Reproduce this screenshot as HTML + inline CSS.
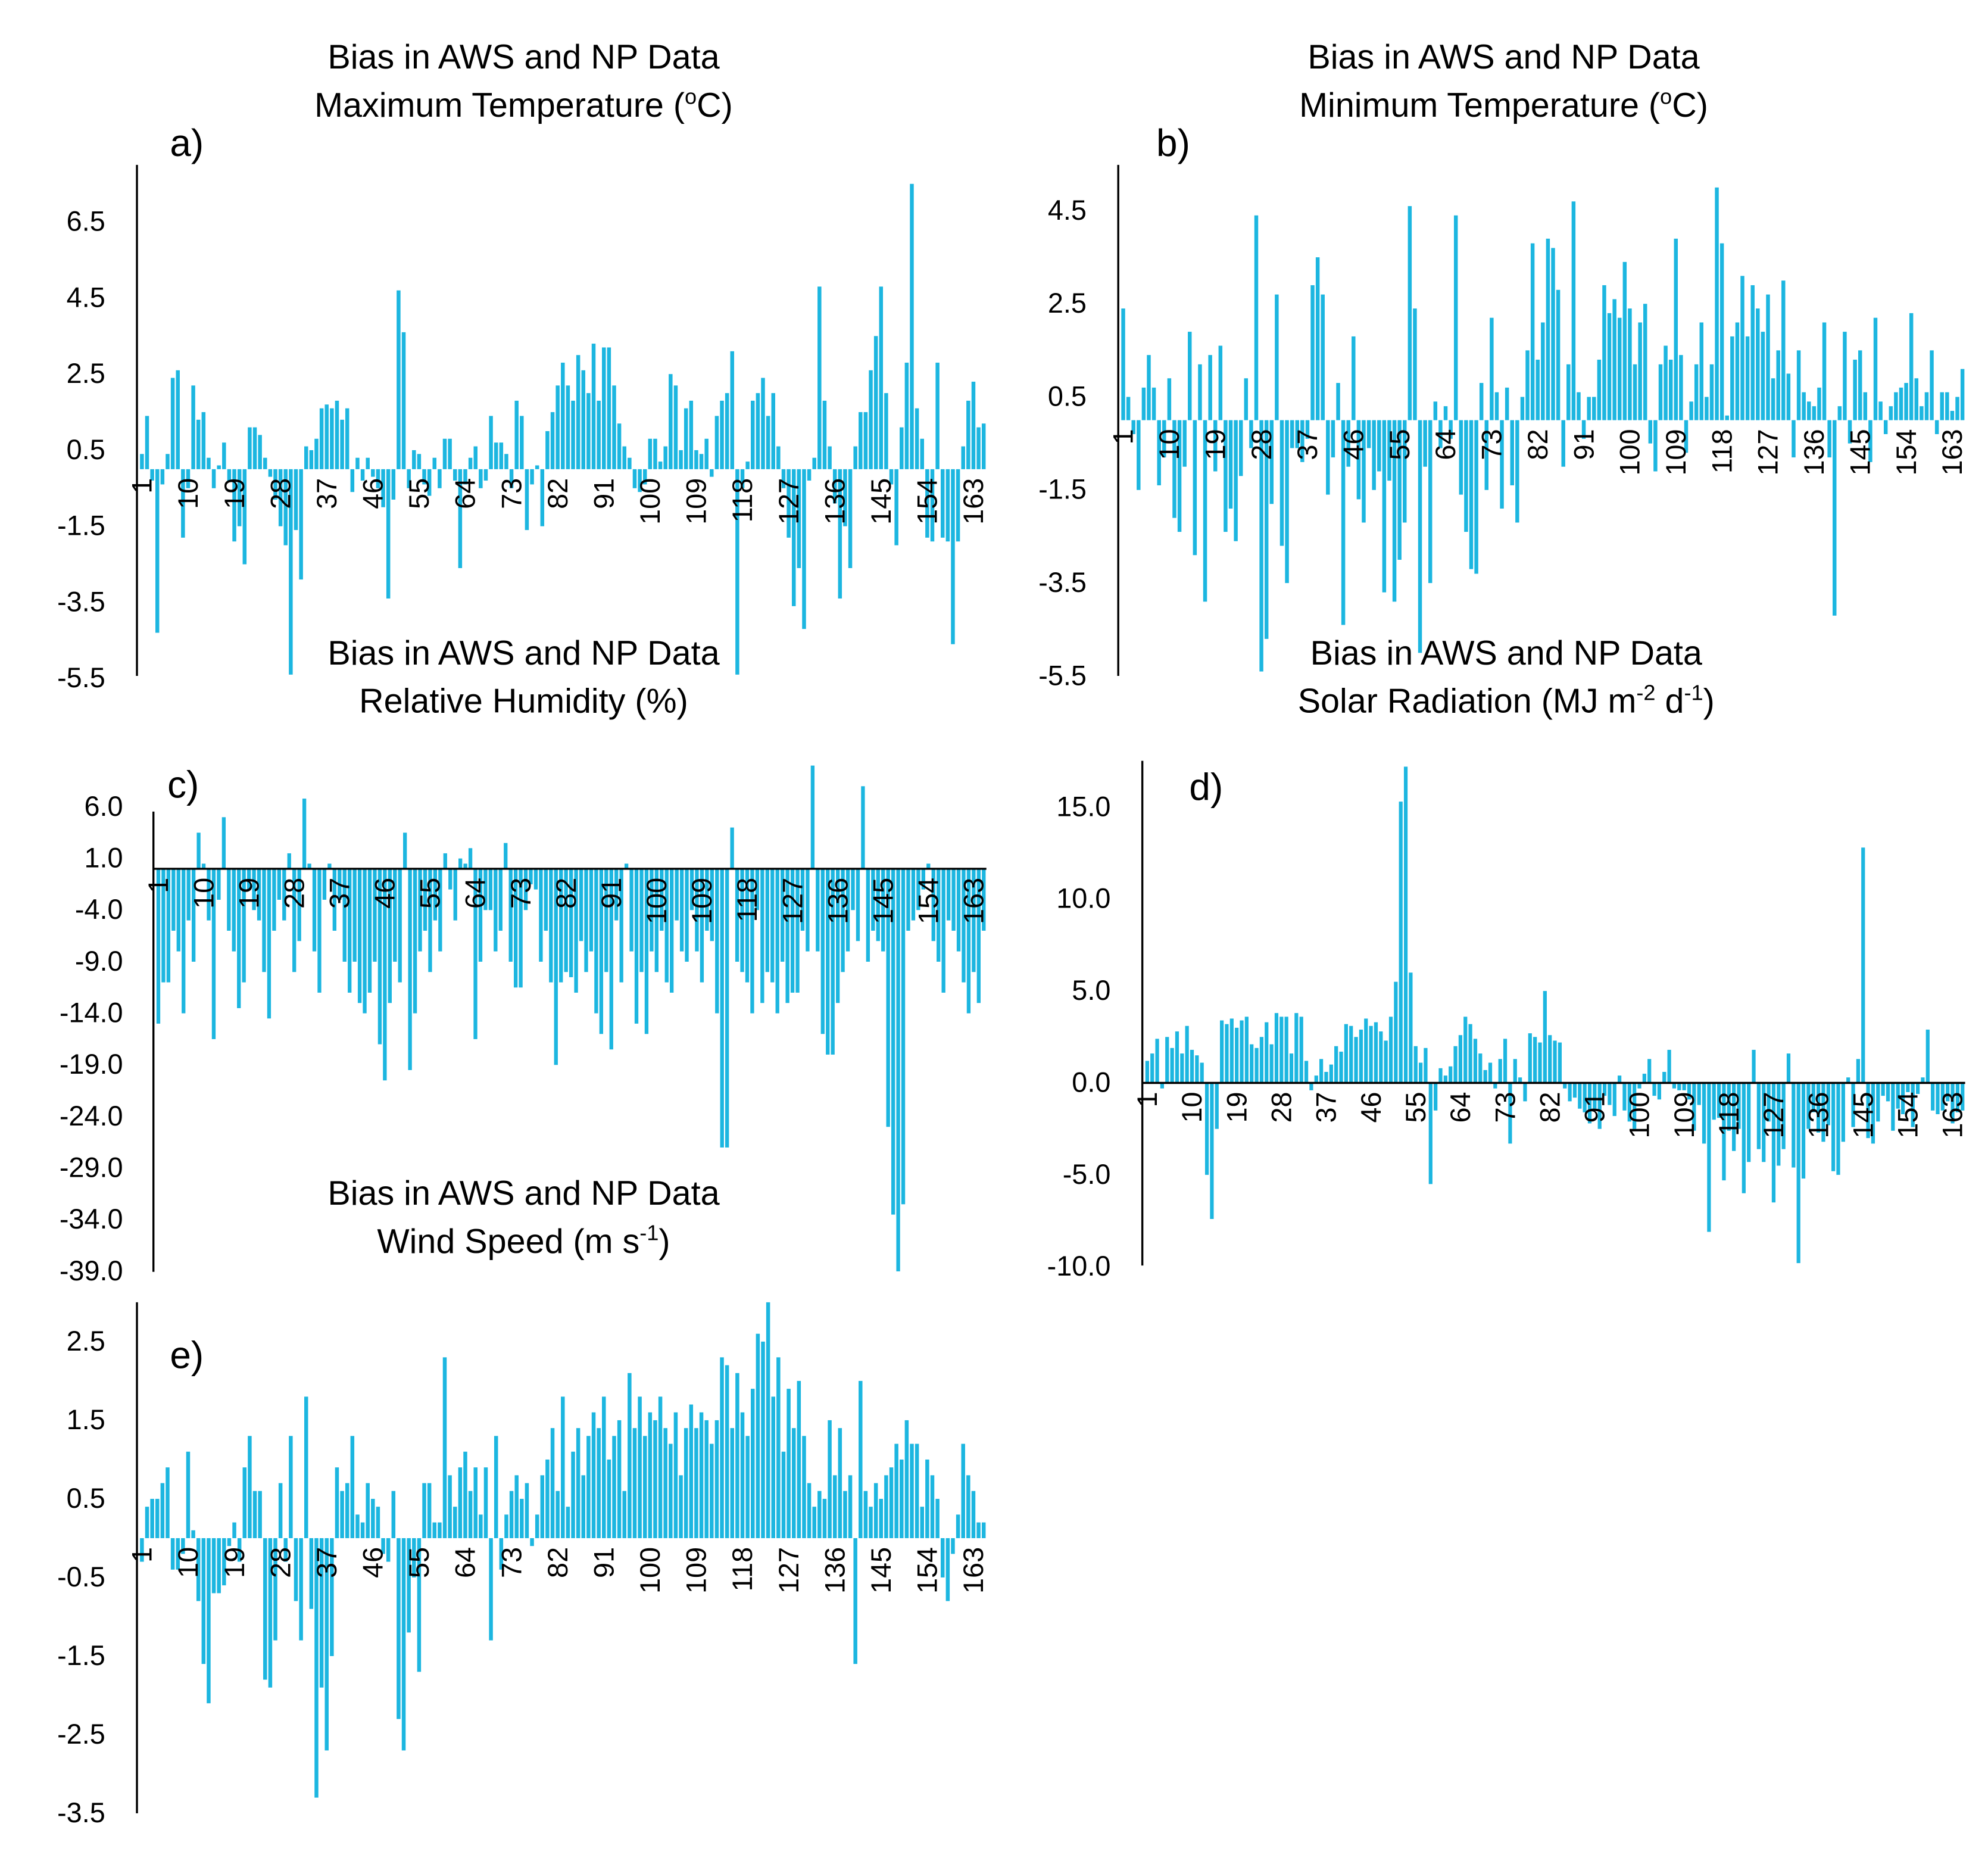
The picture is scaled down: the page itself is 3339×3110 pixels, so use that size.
<!DOCTYPE html>
<html><head><meta charset="utf-8"><style>
html,body{margin:0;padding:0;background:#fff;}
svg{display:block;font-family:"Liberation Sans",sans-serif;}
</style></head><body>
<svg id="chart" width="3339" height="3110" viewBox="0 0 1568 1460.5" xmlns="http://www.w3.org/2000/svg">
<rect width="1568" height="1461" fill="#fff"/>
<g font-size="27" fill="#000" text-anchor="middle">
<text x="413" y="54">Bias in AWS and NP Data</text>
<text x="413" y="92">Maximum Temperature (<tspan font-size="17" dy="-10">o</tspan><tspan dy="10">C)</tspan></text>
<text x="1186" y="54">Bias in AWS and NP Data</text>
<text x="1186" y="92">Minimum Temperature (<tspan font-size="17" dy="-10">o</tspan><tspan dy="10">C)</tspan></text>
<text x="413" y="524">Bias in AWS and NP Data</text>
<text x="413" y="562">Relative Humidity (%)</text>
<text x="1188" y="524">Bias in AWS and NP Data</text>
<text x="1188" y="562">Solar Radiation (MJ m<tspan font-size="17" dy="-10">-2</tspan><tspan dy="10"> d</tspan><tspan font-size="17" dy="-10">-1</tspan><tspan dy="10">)</tspan></text>
<text x="413" y="950">Bias in AWS and NP Data</text>
<text x="413" y="988">Wind Speed (m s<tspan font-size="17" dy="-10">-1</tspan><tspan dy="10">)</tspan></text>
</g>
<g font-size="30" fill="#000">
<text x="134" y="123">a)</text>
<text x="912" y="123">b)</text>
<text x="132" y="629">c)</text>
<text x="938" y="631">d)</text>
<text x="134" y="1079">e)</text>
</g>
</svg>
<script>
const catLabels=[1,10,19,28,37,46,55,64,73,82,91,100,109,118,127,136,145,154,163];
const dataA=[0.4,1.4,-0.3,-4.3,-0.4,0.4,2.4,2.6,-1.8,-0.5,
2.2,1.3,1.5,0.3,-0.5,0.1,0.7,-0.3,-1.9,-1.5,
-2.5,1.1,1.1,0.9,0.3,-0.2,-0.8,-1.5,-2.0,-5.4,
-1.6,-2.9,0.6,0.5,0.8,1.6,1.7,1.6,1.8,1.3,
1.6,-0.6,0.3,-0.3,0.3,-0.2,-0.5,-1.0,-3.4,-0.8,
4.7,3.6,-0.5,0.5,0.4,-0.4,-0.7,0.3,-0.5,0.8,
0.8,-0.3,-2.6,-0.4,0.3,0.6,-0.5,-0.3,1.4,0.7,
0.7,0.4,-0.5,1.8,1.4,-1.6,-0.4,0.1,-1.5,1.0,
1.5,2.2,2.8,2.2,1.8,3.0,2.6,2.0,3.3,1.8,
3.2,3.2,2.2,1.2,0.6,0.3,-0.5,-0.6,-0.4,0.8,
0.8,0.2,0.6,2.5,2.2,0.5,1.6,1.8,0.5,0.4,
0.8,-0.2,1.4,1.8,2.0,3.1,-5.4,-0.5,0.2,1.8,
2.0,2.4,1.4,2.0,0.6,-0.5,-1.8,-3.6,-2.6,-4.2,
-0.3,0.3,4.8,1.8,0.6,-0.9,-3.4,-1.5,-2.6,0.6,
1.5,1.5,2.6,3.5,4.8,2.0,-0.4,-2.0,1.1,2.8,
7.5,1.6,0.8,-1.8,-1.9,2.8,-1.8,-1.9,-4.6,-1.9,
0.6,1.8,2.3,1.1,1.2];
const dataB=[2.4,0.5,-0.3,-1.5,0.7,1.4,0.7,-1.4,-0.8,0.9,
-2.1,-2.4,-1.0,1.9,-2.9,1.2,-3.9,1.4,-1.1,1.6,
-2.4,-1.9,-2.6,-1.2,0.9,-0.6,4.4,-5.4,-4.7,-1.8,
2.7,-2.7,-3.5,-0.6,-0.6,-0.9,-0.4,2.9,3.5,2.7,
-1.6,-0.8,0.8,-4.4,-1.0,1.8,-1.7,-2.2,-0.6,-1.5,
-1.1,-3.7,-1.3,-3.9,-3.0,-2.2,4.6,2.4,-5.0,-1.0,
-3.5,0.4,-0.6,0.3,-0.4,4.4,-1.6,-2.4,-3.2,-3.3,
0.8,-1.5,2.2,0.6,-1.9,0.7,-1.4,-2.2,0.5,1.5,
3.8,1.3,2.1,3.9,3.7,2.8,-1.0,1.2,4.7,0.6,
-0.4,0.5,0.5,1.3,2.9,2.3,2.6,2.2,3.4,2.4,
1.2,2.1,2.5,-0.5,-1.1,1.2,1.6,1.3,3.9,1.4,
-0.7,0.4,1.2,2.1,0.5,1.2,5.0,3.8,0.1,1.8,
2.1,3.1,1.8,2.9,2.4,1.9,2.7,0.9,1.5,3.0,
1.0,-0.8,1.5,0.6,0.4,0.3,0.7,2.1,-0.8,-4.2,
0.3,1.9,-0.5,1.3,1.5,0.6,-0.9,2.2,0.4,-0.3,
0.3,0.6,0.7,0.8,2.3,0.9,0.3,0.6,1.5,-0.3,
0.6,0.6,0.2,0.5,1.1];
const dataC=[-15,-11,-11,-6,-8,-14,-5,-9,3.5,0.5,
-5,-16.5,-3,5,-6,-8,-13.5,-11,-2,-4,
-5,-10,-14.5,-6,-3,-5,1.5,-10,-7,6.8,
0.5,-8,-12,-3,0.5,-6,-3,-9,-12,-9,
-13,-14,-12,-9,-17,-20.5,-13,-9,-11,3.5,
-19.5,-14,-8,-6,-10,-5,-8,1.5,-2,-5,
1,0.5,2,-16.5,-9,-4,-4,-8,-6,2.5,
-9,-11.5,-11.5,-4,-1.5,-2,-9,-6,-11,-19,
-11,-10,-10.5,-12,-7,-10,-8,-14,-16,-10,
-17.5,-5,-11,0.5,-8,-15,-10,-16,-8,-10,
-6,-11,-12,-5,-8,-9,-4,-8,-11,-6,
-7,-14,-27,-27,4,-9,-10,-11,-14,-4,
-13,-10,-11,-14,-9,-13,-12,-12,-6,-8,
10,-8,-16,-18,-18,-13,-10,-8,-4,-7,
8,-9,-6,-7,-8,-25,-33.5,-39,-32.5,-6,
-5,-4,-2,0.5,-7,-9,-12,-5,-6,-8,
-11,-14,-10,-13,-6];
const dataD=[1.2,1.6,2.4,-0.3,2.5,1.9,2.8,1.6,3.1,1.8,
1.5,1.1,-5.0,-7.4,-2.5,3.4,3.2,3.5,3.0,3.4,
3.6,2.1,1.9,2.5,3.3,2.1,3.8,3.6,3.6,1.6,
3.8,3.6,1.2,-0.4,0.4,1.3,0.6,1.0,2.0,1.7,
3.2,3.1,2.5,2.9,3.5,3.1,3.3,2.8,2.3,3.6,
5.5,15.3,17.2,6.0,2.0,1.1,1.9,-5.5,-1.5,0.8,
0.4,0.9,2.0,2.6,3.6,3.2,2.4,1.6,0.7,1.1,
-0.3,1.3,2.4,-3.3,1.3,0.3,-1.0,2.7,2.5,2.2,
5.0,2.6,2.3,2.2,-0.3,-1.0,-0.8,-1.4,-1.6,-2.2,
-1.4,-2.5,-0.7,-1.2,-1.8,0.4,-1.5,-2.1,-2.5,-0.3,
0.5,1.3,-0.7,-0.9,0.6,1.8,-0.3,-0.4,-0.4,-0.9,
-2.6,-1.2,-3.3,-8.1,-2.0,-1.9,-5.3,-2.6,-3.7,-2.5,
-6.0,-4.3,1.8,-3.6,-4.3,-2.1,-6.5,-4.5,-3.6,1.6,
-4.6,-9.8,-5.2,-2.5,-1.6,-2.7,-3.2,-2.3,-4.8,-5.0,
-3.2,0.3,-2.4,1.3,12.8,-3.0,-3.3,-2.1,-0.7,-1.0,
-2.6,-1.4,-1.7,-0.5,-2.4,-0.6,0.3,2.9,-1.5,-1.7,
-1.5,-1.0,-2.2,-1.6,-1.5];
const dataE=[-0.3,0.4,0.5,0.5,0.7,0.9,-0.4,-0.4,-0.2,1.1,
0.1,-0.8,-1.6,-2.1,-0.7,-0.7,-0.6,-0.1,0.2,-0.3,
0.9,1.3,0.6,0.6,-1.8,-1.9,-1.3,0.7,-0.3,1.3,
-0.8,-1.3,1.8,-0.9,-3.3,-1.9,-2.7,-1.5,0.9,0.6,
0.7,1.3,0.3,0.2,0.7,0.5,0.4,-0.2,-0.3,0.6,
-2.3,-2.7,-1.2,-0.5,-1.7,0.7,0.7,0.2,0.2,2.3,
0.8,0.4,0.9,1.1,0.6,0.9,0.3,0.9,-1.3,1.3,
-0.4,0.3,0.6,0.8,0.5,0.7,-0.1,0.3,0.8,1.0,
1.4,0.6,1.8,0.4,1.1,1.4,0.8,1.3,1.6,1.4,
1.8,1.0,1.3,1.5,0.6,2.1,1.4,1.8,1.3,1.6,
1.5,1.8,1.4,1.2,1.6,0.8,1.4,1.7,1.4,1.6,
1.5,1.2,1.5,2.3,2.2,1.4,2.1,1.6,1.3,1.9,
2.6,2.5,3.0,1.8,2.3,1.1,1.9,1.4,2.0,1.3,
0.7,0.4,0.6,0.5,1.5,0.8,1.4,0.6,0.8,-1.6,
2.0,0.6,0.4,0.7,0.5,0.8,0.9,1.2,1.0,1.5,
1.2,1.2,0.4,1.0,0.8,0.5,-0.5,-0.8,-0.2,0.3,
1.2,0.8,0.6,0.2,0.2];
const ticksA=[6.5,4.5,2.5,0.5,-1.5,-3.5,-5.5];
const ticksB=[4.5,2.5,0.5,-1.5,-3.5,-5.5];
const ticksC=[6.0,1.0,-4.0,-9.0,-14.0,-19.0,-24.0,-29.0,-34.0,-39.0];
const ticksD=[15.0,10.0,5.0,0.0,-5.0,-10.0];
const ticksE=[2.5,1.5,0.5,-0.5,-1.5,-2.5,-3.5];

const NS="http://www.w3.org/2000/svg";
const svg=document.getElementById('chart');
function mk(tag,attrs,parent){const e=document.createElementNS(NS,tag);for(const k in attrs)e.setAttribute(k,attrs[k]);(parent||svg).appendChild(e);return e;}

function panel(id,data,ticks,cfg){
  const g=mk('g',{});
  
  
  const y=v=>cfg.y0+(v-cfg.v0)*cfg.ppu*-1;
  const n=data.length;
  const bw=(cfg.x1-cfg.x0)/n;
  const x=i=>cfg.x0+i*bw;
  const bars=mk('g',{fill:'#1cb6e0'},g);
  
  
  data.forEach((v,i)=>{
    const ya=y(0),yb=y(v);
    const r=mk('rect',{x:x(i)+0.4,y:Math.min(ya,yb),width:bw-1.0,height:Math.max(0.6,Math.abs(yb-ya))},bars);
    
    
  });
  const ax=mk('line',{x1:cfg.ax,x2:cfg.ax,y1:cfg.top,y2:cfg.bot,stroke:'#000','stroke-width':1.6},g);
  
  
  if(cfg.zeroLine){
    const zl=mk('line',{x1:cfg.ax,x2:cfg.x1,y1:y(0),y2:y(0),stroke:'#000','stroke-width':1.6},g);
    
    
  }
  ticks.forEach(t=>{
    const tx=mk('text',{x:cfg.lx,y:y(t)+7,'text-anchor':'end','font-size':22},g);
    tx.textContent=t.toFixed(1);
    
    
  });
  catLabels.forEach(c=>{
    const cx=x(c-1)+bw/2, cy=y(0)+7;
    const tx=mk('text',{x:cx,y:cy,'text-anchor':'end','font-size':22,'dominant-baseline':'central',transform:`rotate(-90 ${cx} ${cy})`},g);
    tx.textContent=c;
    
    
  });
}
panel('a',dataA,ticksA,{x0:110,x1:778,ax:108,top:130,bot:533,y0:355,v0:0.5,ppu:30,lx:83,zeroLine:false});
panel('b',dataB,ticksB,{x0:884,x1:1550,ax:882,top:130,bot:533,y0:313,v0:0.5,ppu:36.7,lx:857,zeroLine:false});
panel('c',dataC,ticksC,{x0:123,x1:778,ax:121,top:640,bot:1003,y0:677,v0:1.0,ppu:8.14,lx:97,zeroLine:true});
panel('d',dataD,ticksD,{x0:903,x1:1550,ax:901,top:600,bot:998,y0:854,v0:0,ppu:14.5,lx:876,zeroLine:true});
panel('e',dataE,ticksE,{x0:110,x1:778,ax:108,top:1027,bot:1430,y0:1182,v0:0.5,ppu:62,lx:83,zeroLine:false});
</script>
</body></html>
